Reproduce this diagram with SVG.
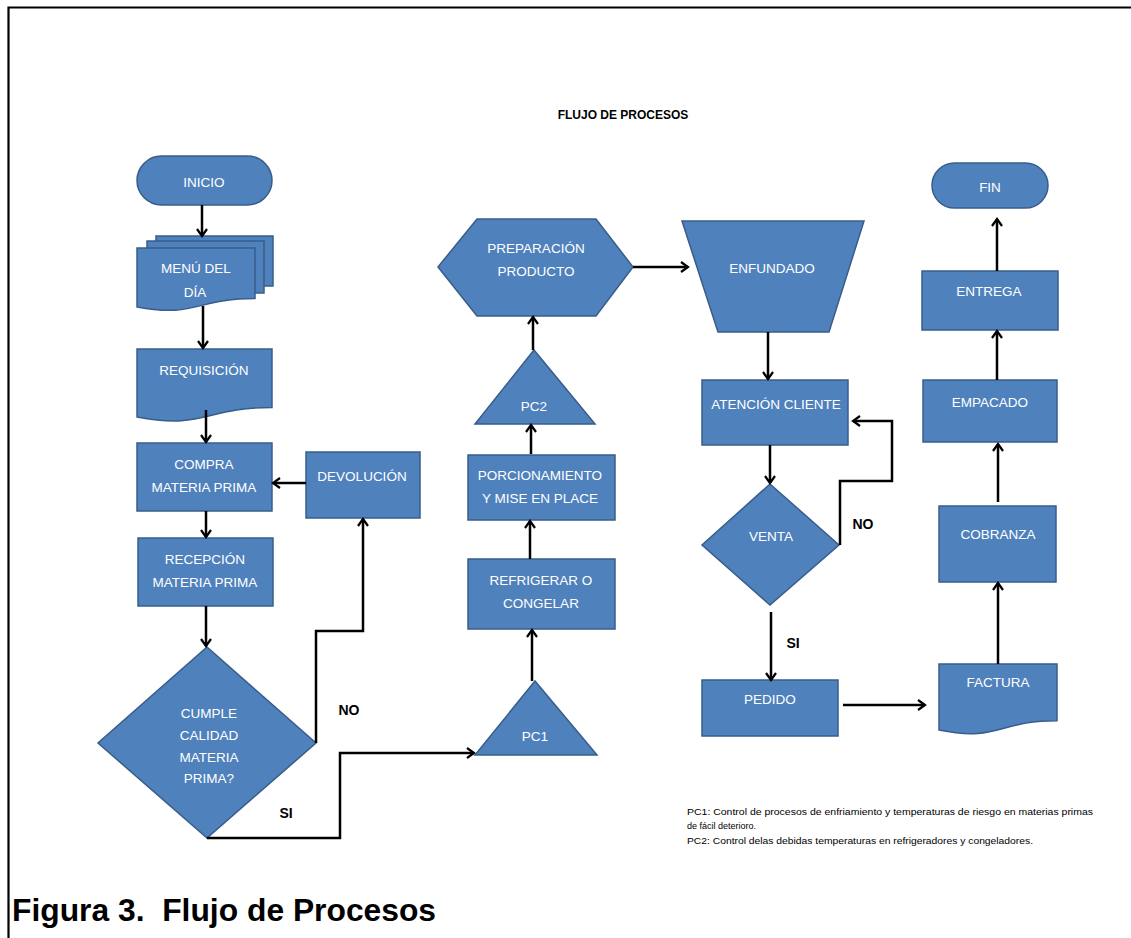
<svg xmlns="http://www.w3.org/2000/svg" width="1131" height="938" viewBox="0 0 1131 938">
<defs>
<style>
.n{fill:#4F81BD;stroke:#385D8A;stroke-width:1.5}
.t{font-family:"Liberation Sans",Arial,sans-serif;font-size:13.5px;fill:#FFFFFF;text-anchor:middle}
.c{fill:none;stroke:#000;stroke-width:2.5;marker-end:url(#a)}
.l{font-family:"Liberation Sans",Arial,sans-serif;font-size:14px;font-weight:bold;fill:#000;text-anchor:middle}
.note{font-family:"Liberation Sans",Arial,sans-serif;font-size:9px;fill:#000}
</style>
<marker id="a" markerWidth="12" markerHeight="12" refX="9" refY="6" orient="auto" markerUnits="userSpaceOnUse">
<path d="M2,1 L9,6 L2,11" fill="none" stroke="#000" stroke-width="2.2"/>
</marker>
</defs>
<rect width="1131" height="938" fill="#fff"/>
<path d="M8.5,938 V7.5 H1131" fill="none" stroke="#000" stroke-width="2.2"/>
<text x="623" y="119" font-family="Liberation Sans,Arial,sans-serif" font-size="12" font-weight="bold" text-anchor="middle" fill="#000">FLUJO DE PROCESOS</text>

<g id="inicio"><rect class="n" x="137" y="156" width="135" height="49" rx="24.5"/><text class="t" x="204" y="187">INICIO</text></g>
<g id="menu">
<rect class="n" x="156" y="236" width="117" height="50"/>
<rect class="n" x="147" y="241" width="117" height="52"/>
<path class="n" d="M137,248 H255 V298.5 C196,298.5 196,318 137,307 Z"/>
<text class="t" x="196" y="273">MENÚ DEL</text><text class="t" x="195" y="297">DÍA</text></g>
<g id="requisicion"><path class="n" d="M137,349 H272 V407.5 C204.5,407.5 204.5,430 137,417 Z"/><text class="t" x="204" y="375">REQUISICIÓN</text></g>
<g id="compra"><rect class="n" x="137" y="443" width="135" height="68"/><text class="t" x="204" y="469">COMPRA</text><text class="t" x="204" y="492">MATERIA PRIMA</text></g>
<g id="devolucion"><rect class="n" x="306" y="452" width="114" height="66"/><text class="t" x="362" y="481">DEVOLUCIÓN</text></g>
<g id="recepcion"><rect class="n" x="138" y="538" width="135" height="68"/><text class="t" x="205" y="564">RECEPCIÓN</text><text class="t" x="205" y="587">MATERIA PRIMA</text></g>
<g id="cumple"><path class="n" d="M207,647 L316,743 L207,838 L98,743 Z"/><text class="t" x="209" y="718">CUMPLE</text><text class="t" x="209" y="740">CALIDAD</text><text class="t" x="209" y="762">MATERIA</text><text class="t" x="209" y="783">PRIMA?</text></g>
<g id="pc1"><path class="n" d="M535,681 L597,755 L475,755 Z"/><text class="t" x="535" y="741">PC1</text></g>
<g id="refrigerar"><rect class="n" x="468" y="559" width="147" height="70"/><text class="t" x="541" y="585">REFRIGERAR O</text><text class="t" x="541" y="608">CONGELAR</text></g>
<g id="porcionamiento"><rect class="n" x="468" y="455" width="147" height="65"/><text class="t" x="540" y="480">PORCIONAMIENTO</text><text class="t" x="540" y="503">Y MISE EN PLACE</text></g>
<g id="pc2"><path class="n" d="M534,350 L595,424 L475,424 Z"/><text class="t" x="534" y="411">PC2</text></g>
<g id="preparacion"><path class="n" d="M438,267 L477,219 H596 L633,267 L596,316 H477 Z"/><text class="t" x="536" y="253">PREPARACIÓN</text><text class="t" x="536" y="276">PRODUCTO</text></g>
<g id="enfundado"><path class="n" d="M682,221 H864 L829,332 H718 Z"/><text class="t" x="772" y="273">ENFUNDADO</text></g>
<g id="atencion"><rect class="n" x="702" y="380" width="146" height="65"/><text class="t" x="776" y="409">ATENCIÓN CLIENTE</text></g>
<g id="venta"><path class="n" d="M770,484 L839,545 L770,605 L702,545 Z"/><text class="t" x="771" y="541">VENTA</text></g>
<g id="pedido"><rect class="n" x="702" y="680" width="136" height="56"/><text class="t" x="770" y="704">PEDIDO</text></g>
<g id="factura"><path class="n" d="M939,664 H1057 V720.7 C998,720.7 998,742 939,730 Z"/><text class="t" x="998" y="687">FACTURA</text></g>
<g id="cobranza"><rect class="n" x="939" y="506" width="117" height="76"/><text class="t" x="998" y="539">COBRANZA</text></g>
<g id="empacado"><rect class="n" x="923" y="380" width="134" height="62"/><text class="t" x="990" y="407">EMPACADO</text></g>
<g id="entrega"><rect class="n" x="922" y="271" width="136" height="59"/><text class="t" x="989" y="296">ENTREGA</text></g>
<g id="fin"><rect class="n" x="932" y="163" width="116" height="45" rx="22.5"/><text class="t" x="990" y="192">FIN</text></g>

<g id="connectors">
<path class="c" d="M202,205 V236"/>
<path class="c" d="M203,306 V348"/>
<path class="c" d="M206,410 V442"/>
<path class="c" d="M306,483 H273"/>
<path class="c" d="M206,511 V537"/>
<path class="c" d="M206,606 V646"/>
<path class="c" d="M316,743 V631 H363 V519"/>
<path class="c" d="M207,838 H340 V753 H474"/>
<path class="c" d="M532,681 V630"/>
<path class="c" d="M530,559 V521"/>
<path class="c" d="M531,454 V425"/>
<path class="c" d="M533,350 V317"/>
<path class="c" d="M633,267 H688"/>
<path class="c" d="M768,332 V379"/>
<path class="c" d="M770,445 V483"/>
<path class="c" d="M840,545 V481 H892 V421 H853"/>
<path class="c" d="M771,612 V680"/>
<path class="c" d="M843,705 H925"/>
<path class="c" d="M998,664 V583"/>
<path class="c" d="M998,502 V444"/>
<path class="c" d="M997,380 V331"/>
<path class="c" d="M997,271 V219"/>
</g>
<text class="l" x="349" y="715">NO</text>
<text class="l" x="286" y="818">SI</text>
<text class="l" x="863" y="529">NO</text>
<text class="l" x="793" y="648">SI</text>

<text class="note" x="687" y="815" textLength="406" lengthAdjust="spacingAndGlyphs">PC1: Control de procesos de enfriamiento y temperaturas de riesgo en materias primas</text>
<text class="note" x="687" y="829">de fácil deterioro.</text>
<text class="note" x="687" y="844" textLength="346" lengthAdjust="spacingAndGlyphs">PC2: Control delas debidas temperaturas en refrigeradores y congeladores.</text>

<text x="12" y="921" font-family="Liberation Sans,Arial,sans-serif" font-size="31.8" font-weight="bold" fill="#000" style="white-space:pre">Figura 3.  Flujo de Procesos</text>
</svg>
